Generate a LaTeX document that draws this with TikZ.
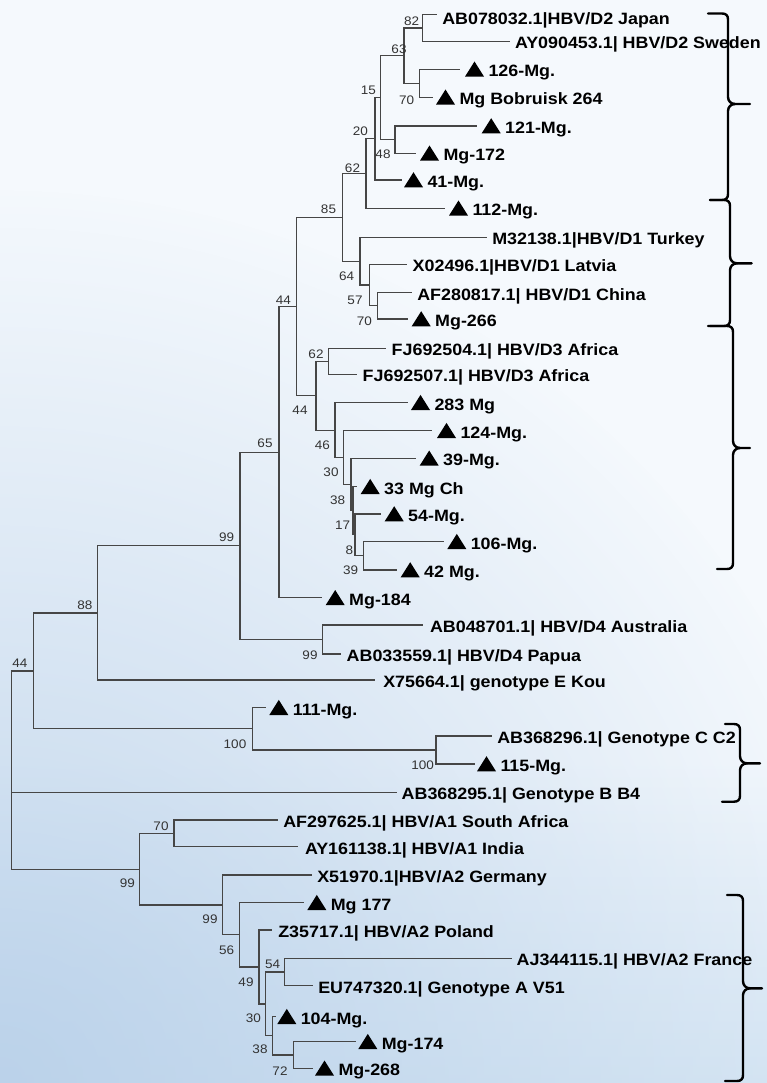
\documentclass[tikz,border=0pt]{standalone}
\usepackage{fontspec}
\usetikzlibrary{fadings}
\newfontfamily\labfont{Liberation Sans}[FakeStretch=1.09]
\newfontfamily\numfont{Liberation Sans}[FakeStretch=1.09]
\definecolor{bgc}{RGB}{245,249,253}
\definecolor{bgblue}{RGB}{216,231,244}
\definecolor{bgblue2}{RGB}{184,208,233}
\definecolor{brcol}{RGB}{70,70,70}
\tikzfading[name=blfade, inner color=transparent!0, outer color=transparent!100]
% leaf label: name, x of text start, y of branch, text
\newcommand\plainleaf[4]{\node[lab] (#1) at (#2,#3+7.3) {#4};}
% leaf with triangle: name, x of triangle left, y of branch, text
\newcommand\mgleaf[4]{%
 \fill[black] (#2,#3+7.3) -- (#2+19,#3+7.3) -- (#2+9.5,#3-7.8) -- cycle;
 \node[lab] (#1) at (#2+23.5,#3+7.3) {#4};}
\newcommand\hbvbrace[7]{%
 \draw[brc] (#1,#2) -- (#3-6,#2) .. controls (#3-2,#2) and (#3,#2+2) .. (#3,#2+6) -- (#3,#4-7) .. controls (#3,#4-3) and (#3+3,#4) .. (#3+7,#4) -- (#5,#4);
 \draw[brc] (#3+7,#4) .. controls (#3+3,#4) and (#3,#4+3) .. (#3,#4+7) -- (#3,#7-6) .. controls (#3,#7-2) and (#3-2,#7) .. (#3-6,#7) -- (#6,#7);}
\begin{document}
\begin{tikzpicture}[x=1pt,y=-1pt,
  br/.style={draw=brcol, line width=1.1pt},
  lab/.style={anchor=base west, inner sep=0pt, outer sep=0pt, font=\labfont\bfseries\fontsize{16.4}{18}\selectfont},
  bs/.style={inner sep=0pt, font=\numfont\fontsize{12.4}{13}\selectfont, text=black!80},
  brc/.style={line width=2.4pt, draw=black, line cap=round, line join=round}]
\useasboundingbox (0,0) rectangle (767,1083);
% background
\fill[bgc] (0,0) rectangle (767,1083);
\shade[top color=bgc, bottom color=bgblue] (0,760) rectangle (767,1083);
\begin{scope}
\clip (0,0) rectangle (767,1083);
\fill[bgblue2, path fading=blfade, opacity=0.9] (0,1083) circle (900);
\end{scope}

% ---------- leaf ends ----------
\coordinate (e1) at (436.7,14.3);
\coordinate (e2) at (510,41.7);
\coordinate (e3) at (460,69.3);
\coordinate (e4) at (433,97.3);
\coordinate (e5) at (476.7,126);
\coordinate (e6) at (416,153.3);
\coordinate (e7) at (401.7,180);
\coordinate (e8) at (445,208.3);
\coordinate (e9) at (486.7,237.3);
\coordinate (e10) at (406.7,264.3);
\coordinate (e11) at (411.7,292.7);
\coordinate (e12) at (408.3,319);
\coordinate (e13) at (386,348.3);
\coordinate (e14) at (356.7,374.3);
\coordinate (e15) at (408.3,402.7);
\coordinate (e16) at (432,430.7);
\coordinate (e17) at (415.7,458.3);
\coordinate (e18) at (357,486.7);
\coordinate (e19) at (380.7,514);
\coordinate (e20) at (444,541.7);
\coordinate (e21) at (397.3,570);
\coordinate (e22) at (322.3,597.8);
\coordinate (e23) at (423.3,625);
\coordinate (e24) at (340.7,654);
\coordinate (e25) at (375,680);
\coordinate (e26) at (266,707.7);
\coordinate (e27) at (491.7,736);
\coordinate (e28) at (475,764);
\coordinate (e29) at (397,792.5);
\coordinate (e30) at (278.3,820);
\coordinate (e31) at (298.3,846.7);
\coordinate (e32) at (311.7,875);
\coordinate (e33) at (304,902.7);
\coordinate (e34) at (271.7,930);
\coordinate (e35) at (511.7,958.3);
\coordinate (e36) at (313.3,985.7);
\coordinate (e37) at (276,1016.7);
\coordinate (e38) at (356,1041.7);
\coordinate (e39) at (312.7,1068.3);

% ---------- internal nodes ----------
\coordinate (n82) at (422.7,28);
\coordinate (n70a) at (419.3,83.3);
\coordinate (n63) at (404,55.7);
\coordinate (n48) at (395,139.7);
\coordinate (n15) at (380.7,97.7);
\coordinate (n20) at (375,138.8);
\coordinate (n62) at (366,173.6);
\coordinate (n70b) at (377.7,305.8);
\coordinate (n57) at (369.3,285);
\coordinate (n64) at (360,261.2);
\coordinate (n85) at (342.7,217.4);
\coordinate (n62b) at (328.3,361.3);
\coordinate (n39) at (363.5,555.8);
\coordinate (n8) at (355,534.9);
\coordinate (n17) at (353,510.8);
\coordinate (n38) at (351,484.5);
\coordinate (n30) at (343.3,457.6);
\coordinate (n46) at (335,430.2);
\coordinate (n44b) at (316,395.7);
\coordinate (n44) at (296.7,306.6);
\coordinate (n65) at (279,452.2);
\coordinate (n99d) at (322.7,639.5);
\coordinate (n99) at (240,545.9);
\coordinate (n88) at (97.7,613);
\coordinate (n100b) at (436,750);
\coordinate (n100a) at (252.3,728.9);
\coordinate (n44r) at (33.3,671);
\coordinate (n70A) at (174,833.4);
\coordinate (n72) at (293.3,1055);
\coordinate (n38A) at (272.7,1035.9);
\coordinate (n54) at (284.3,972);
\coordinate (n30A) at (265.7,1004);
\coordinate (n49) at (259,967);
\coordinate (n56) at (239.3,934.9);
\coordinate (n99B) at (222.7,905);
\coordinate (n99A) at (139.3,869.2);
\coordinate (root) at (11.7,770);

% ---------- branches ----------
\foreach \p/\c in {n82/e1,n82/e2,n70a/e3,n70a/e4,n63/n82,n63/n70a,n48/e5,n48/e6,
  n15/n63,n15/n48,n20/n15,n20/e7,n62/n20,n62/e8,
  n70b/e11,n70b/e12,n57/e10,n57/n70b,n64/e9,n64/n57,n85/n62,n85/n64,
  n62b/e13,n62b/e14,n39/e20,n39/e21,n8/e19,n8/n39,n17/e18,n17/n8,n38/e17,n38/n17,
  n30/e16,n30/n38,n46/e15,n46/n30,n44b/n62b,n44b/n46,n44/n85,n44/n44b,
  n65/n44,n65/e22,n99d/e23,n99d/e24,n99/n65,n99/n99d,n88/n99,n88/e25,
  n100b/e27,n100b/e28,n100a/e26,n100a/n100b,n44r/n88,n44r/n100a,
  n70A/e30,n70A/e31,n72/e38,n72/e39,n38A/e37,n38A/n72,n54/e35,n54/e36,
  n30A/n54,n30A/n38A,n49/e34,n49/n30A,n56/e33,n56/n49,n99B/e32,n99B/n56,
  n99A/n70A,n99A/n99B,root/n44r,root/e29,root/n99A}
  \draw[br] (\p) |- (\c);

% ---------- leaf labels ----------
\node[lab] (l1) at (442.3,24.3) {AB078032.1|HBV/D2 Japan};
\plainleaf{l2}{515}{41.7}{AY090453.1| HBV/D2 Sweden}
\mgleaf{l3}{465}{69.3}{126-Mg.}
\mgleaf{l4}{436}{97.3}{Mg Bobruisk 264}
\mgleaf{l5}{481.7}{126}{121-Mg.}
\mgleaf{l6}{420}{153.3}{Mg-172}
\mgleaf{l7}{404}{180}{41-Mg.}
\mgleaf{l8}{449}{208.3}{112-Mg.}
\plainleaf{l9}{492.3}{237.3}{M32138.1|HBV/D1 Turkey}
\plainleaf{l10}{412.7}{264.3}{X02496.1|HBV/D1 Latvia}
\plainleaf{l11}{417.3}{292.7}{AF280817.1| HBV/D1 China}
\mgleaf{l12}{411.7}{319}{Mg-266}
\plainleaf{l13}{391.7}{348.3}{FJ692504.1| HBV/D3 Africa}
\plainleaf{l14}{362.7}{374.3}{FJ692507.1| HBV/D3 Africa}
\mgleaf{l15}{411}{402.7}{283 Mg}
\mgleaf{l16}{437}{430.7}{124-Mg.}
\mgleaf{l17}{419.7}{458.3}{39-Mg.}
\mgleaf{l18}{360.7}{486.7}{33 Mg Ch}
\mgleaf{l19}{384.7}{514}{54-Mg.}
\mgleaf{l20}{447.3}{541.7}{106-Mg.}
\mgleaf{l21}{400.7}{570}{42 Mg.}
\mgleaf{l22}{325.7}{597.8}{Mg-184}
\plainleaf{l23}{430}{625}{AB048701.1| HBV/D4 Australia}
\plainleaf{l24}{346.7}{654}{AB033559.1| HBV/D4 Papua}
\plainleaf{l25}{383.3}{680}{X75664.1| genotype E Kou}
\mgleaf{l26}{269.3}{707.7}{111-Mg.}
\plainleaf{l27}{497.3}{736}{AB368296.1| Genotype C C2}
\mgleaf{l28}{477}{764}{115-Mg.}
\plainleaf{l29}{401.7}{792.5}{AB368295.1| Genotype B B4}
\plainleaf{l30}{283.3}{820}{AF297625.1| HBV/A1 South Africa}
\plainleaf{l31}{305}{846.7}{AY161138.1| HBV/A1 India}
\plainleaf{l32}{317.3}{875}{X51970.1|HBV/A2 Germany}
\mgleaf{l33}{307.3}{902.7}{Mg 177}
\plainleaf{l34}{278.3}{930}{Z35717.1| HBV/A2 Poland}
\plainleaf{l35}{516.7}{958.3}{AJ344115.1| HBV/A2 France}
\plainleaf{l36}{318.3}{985.7}{EU747320.1| Genotype A V51}
\mgleaf{l37}{277.3}{1016.7}{104-Mg.}
\mgleaf{l38}{358.3}{1041.7}{Mg-174}
\mgleaf{l39}{315}{1068.3}{Mg-268}

% ---------- bootstrap values ----------
\node[bs] (b82) at (411.7,21.7) {82};
\node[bs] (b63) at (399,49.3) {63};
\node[bs] (b70a) at (406.7,100) {70};
\node[bs] (b15) at (368.3,90) {15};
\node[bs] (b20) at (360.3,131.7) {20};
\node[bs] (b48) at (383,154) {48};
\node[bs] (b62) at (352.5,168.3) {62};
\node[bs] (b85) at (328.5,209.5) {85};
\node[bs] (b64) at (346.7,276) {64};
\node[bs] (b57) at (355,300) {57};
\node[bs] (b70b) at (364.3,321.7) {70};
\node[bs] (b44) at (283.3,300) {44};
\node[bs] (b62b) at (316,354.3) {62};
\node[bs] (b44b) at (300,410.5) {44};
\node[bs] (b46) at (322.3,445) {46};
\node[bs] (b30) at (331,472.3) {30};
\node[bs] (b38) at (337.7,500) {38};
\node[bs] (b17) at (342.7,525) {17};
\node[bs] (b8) at (349.5,550) {8};
\node[bs] (b39) at (350.7,570.7) {39};
\node[bs] (b65) at (265,443.3) {65};
\node[bs] (b99) at (226.7,537.3) {99};
\node[bs] (b99d) at (310,655) {99};
\node[bs] (b88) at (85,605.5) {88};
\node[bs] (b44r) at (20,663) {44};
\node[bs] (b100a) at (235,744) {100};
\node[bs] (b100b) at (422.7,765) {100};
\node[bs] (b70A) at (161,826) {70};
\node[bs] (b99A) at (127.3,883.3) {99};
\node[bs] (b99B) at (210,919.3) {99};
\node[bs] (b56) at (226.7,950) {56};
\node[bs] (b54) at (272.7,964) {54};
\node[bs] (b49) at (246,982.3) {49};
\node[bs] (b30A) at (253.3,1018.3) {30};
\node[bs] (b38A) at (260,1049.3) {38};
\node[bs] (b72) at (280,1070.7) {72};

% ---------- braces ----------
\hbvbrace{708}{13.5}{728}{104}{750}{710}{200}
\hbvbrace{710}{200}{730}{263.3}{751.7}{708}{326}
\hbvbrace{710}{326}{733}{448}{750}{717}{569}
\hbvbrace{725}{724}{740}{763.3}{760}{722}{801.7}
\hbvbrace{727}{895}{743}{988.3}{762}{725}{1081}
\end{tikzpicture}
\end{document}
